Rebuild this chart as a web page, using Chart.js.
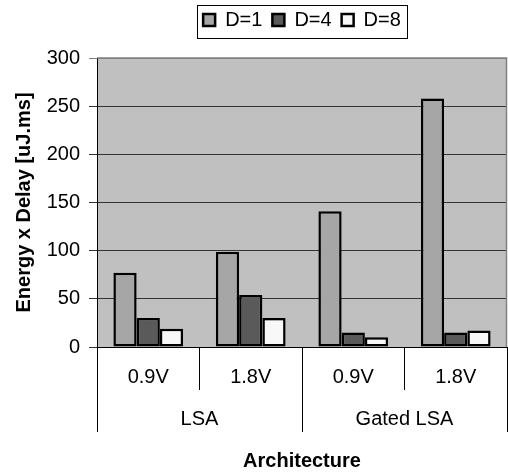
<!DOCTYPE html>
<html>
<head>
<meta charset="utf-8">
<script src="https://cdn.jsdelivr.net/npm/chart.js@4/dist/chart.umd.min.js"></script>
<style>
  html, body { margin: 0; padding: 0; background: #ffffff; }
  #wrap { width: 508px; height: 473px; }
</style>
</head>
<body>
<div id="wrap"><canvas id="c" width="508" height="473"></canvas></div>
<script>
// Supply voltage per bar group, and the architecture each pair belongs to
const categories = ['0.9V', '1.8V', '0.9V', '1.8V'];
const groups = ['LSA', 'Gated LSA'];
const seriesNames = ['D=1', 'D=4', 'D=8'];

// Energy x Delay [uJ.ms] for each design depth
const valuesD1 = [77, 99, 141, 258];
const valuesD4 = [30, 54, 15, 15];
const valuesD8 = [19, 30, 10, 17];

const yMin = 0, yMax = 300, yStep = 50;

const FONT = "'Liberation Sans', Arial, Helvetica, sans-serif";

// Grey plot background plus the light frame on its top and right sides
const plotFrame = {
  id: 'plotFrame',
  beforeDraw(chart) {
    const a = chart.chartArea, ctx = chart.ctx;
    ctx.save();
    ctx.fillStyle = '#c0c0c0';
    ctx.fillRect(a.left, a.top, a.right - a.left, a.bottom - a.top);
    ctx.restore();
  },
  beforeDatasetsDraw(chart) {
    const a = chart.chartArea, ctx = chart.ctx;
    ctx.save();
    ctx.strokeStyle = '#808080';
    ctx.lineWidth = 1.5;
    ctx.beginPath();
    ctx.moveTo(a.left, a.top);
    ctx.lineTo(a.right - 0.5, a.top);
    ctx.lineTo(a.right - 0.5, a.bottom);
    ctx.stroke();
    ctx.restore();
  },
  // thin box around the legend entries
  afterDraw(chart) {
    const boxes = chart.legend && chart.legend.legendHitBoxes;
    if (!boxes || !boxes.length) return;
    let l = Infinity, r = -Infinity, t = Infinity, b = -Infinity;
    boxes.forEach(h => {
      l = Math.min(l, h.left); r = Math.max(r, h.left + h.width);
      t = Math.min(t, h.top); b = Math.max(b, h.top + h.height);
    });
    const ctx = chart.ctx;
    ctx.save();
    ctx.strokeStyle = '#000';
    ctx.lineWidth = 1;
    ctx.strokeRect(Math.round(l - 6) + 0.5, Math.round(t - 5) + 0.5,
                   Math.round(r - l + 12), Math.round(b - t + 13));
    ctx.restore();
  }
};

const barStyle = (color) => ({
  backgroundColor: color,
  borderColor: '#000000',
  borderWidth: 2.5,
  borderSkipped: false,
  categoryPercentage: 0.68,
  barPercentage: 1.0
});

new Chart(document.getElementById('c'), {
  type: 'bar',
  data: {
    labels: categories,
    datasets: [
      Object.assign({ label: seriesNames[0], data: valuesD1 }, barStyle('#a6a6a6')),
      Object.assign({ label: seriesNames[1], data: valuesD4 }, barStyle('#5a5a5a')),
      Object.assign({ label: seriesNames[2], data: valuesD8 }, barStyle('#f8f8f8'))
    ]
  },
  plugins: [plotFrame],
  options: {
    responsive: false,
    animation: false,
    events: [],
    layout: { padding: { top: 0, right: 1, bottom: 0, left: 0 } },
    plugins: {
      tooltip: { enabled: false },
      legend: {
        position: 'top',
        fullSize: false,
        weight: 1000,
        labels: {
          boxWidth: 12,
          boxHeight: 12,
          padding: 10,
          color: '#000',
          font: { family: FONT, size: 20 }
        }
      },
      // empty spacer between the legend and the plot
      title: {
        display: true,
        text: '',
        position: 'top',
        fullSize: false,
        weight: 500,
        padding: 0,
        font: { family: FONT, size: 15, lineHeight: 1.2 }
      }
    },
    scales: {
      y: {
        min: yMin,
        max: yMax,
        afterFit: s => { s.width = 97; },
        ticks: {
          stepSize: yStep,
          padding: 9,
          color: '#000',
          font: { family: FONT, size: 20 }
        },
        grid: {
          color: c => (c.tick && c.tick.value === yMax) ? '#808080' : '#333333',
          lineWidth: 1,
          tickLength: 8
        },
        border: { display: true, color: '#000', width: 1 },
        title: {
          display: true,
          text: 'Energy x Delay [uJ.ms]',
          color: '#000',
          font: { family: FONT, size: 20, weight: 'bold' },
          padding: { top: 12, bottom: 0 }
        }
      },
      x: {
        position: 'bottom',
        weight: 1,
        offset: true,
        afterFit: s => { s.height = 43; },
        ticks: {
          padding: -25,
          color: '#000',
          maxRotation: 0,
          autoSkip: false,
          font: { family: FONT, size: 20 }
        },
        grid: {
          offset: true,
          drawOnChartArea: false,
          drawTicks: true,
          tickLength: 43,
          color: '#000',
          lineWidth: 1
        },
        border: { display: true, color: '#000', width: 1 }
      },
      x2: {
        type: 'category',
        labels: groups,
        position: 'bottom',
        weight: 2,
        offset: true,
        afterFit: s => { s.height = 83; },
        ticks: {
          padding: -25,
          color: '#000',
          maxRotation: 0,
          autoSkip: false,
          font: { family: FONT, size: 20 }
        },
        grid: {
          offset: true,
          drawOnChartArea: false,
          drawTicks: true,
          tickLength: 42,
          color: '#000',
          lineWidth: 1
        },
        border: { display: false },
        title: {
          display: true,
          text: 'Architecture',
          color: '#000',
          font: { family: FONT, size: 20, weight: 'bold' },
          padding: { top: 0, bottom: 0 }
        }
      }
    }
  }
});
</script>
</body>
</html>
